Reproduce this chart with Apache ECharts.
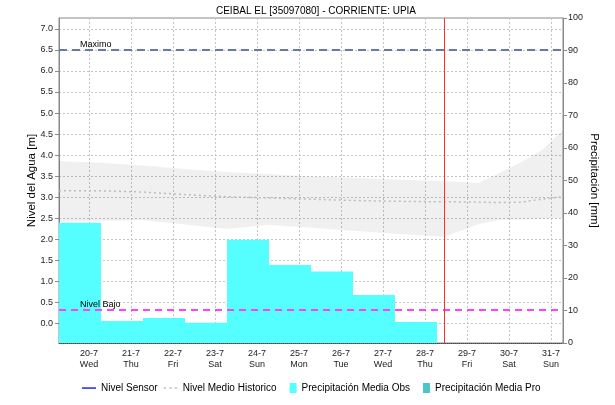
<!DOCTYPE html>
<html>
<head>
<meta charset="utf-8">
<script src="https://cdn.jsdelivr.net/npm/echarts@6/dist/echarts.min.js"></script>
<style>
html,body{margin:0;padding:0;background:#fff;}
#chart{width:615px;height:405px;}
</style>
</head>
<body>
<div id="chart"></div>
<script>
// ---- data ----
const titleText = 'CEIBAL EL [35097080] - CORRIENTE: UPIA';
const days = ['20-7','21-7','22-7','23-7','24-7','25-7','26-7','27-7','28-7','29-7','30-7','31-7'];
const weekdays = ['Wed','Thu','Fri','Sat','Sun','Mon','Tue','Wed','Thu','Fri','Sat','Sun'];
const dayIndex = [0,1,2,3,4,5,6,7,8,9,10,11];
const precipObs = [37.0, 6.8, 7.7, 6.2, 31.8, 24.0, 22.0, 14.8, 6.5, null, null, null];
const precipPro = [null, null, null, null, null, null, null, null, null, null, null, null];
const levelTicks = [0.0,0.5,1.0,1.5,2.0,2.5,3.0,3.5,4.0,4.5,5.0,5.5,6.0,6.5,7.0];
// historic level samples (time in days relative to 20-7 tick)
const histTime  = [-0.714, 0.286, 1.286, 2.286, 3.286, 4.286, 5.286, 6.286, 7.286, 8.286, 8.45, 9.286, 9.786, 10.286, 10.786, 11.286];
const histMax   = [3.86, 3.82, 3.75, 3.67, 3.60, 3.55, 3.49, 3.46, 3.42, 3.39, 3.38, 3.34, 3.58, 3.83, 4.12, 4.60];
const histMin   = [2.42, 2.43, 2.45, 2.35, 2.24, 2.34, 2.27, 2.20, 2.13, 2.07, 2.05, 2.36, 2.46, 2.47, 2.48, 2.50];
const histMean  = [3.15, 3.15, 3.12, 3.06, 3.01, 2.98, 2.95, 2.92, 2.90, 2.89, 2.89, 2.88, 2.87, 2.88, 2.95, 3.01];
const levelMax = 6.5;
const levelLow = 0.32;
const nowTime = 8.45;

// ---- chart ----
const FONT = 'Liberation Sans, Arial, sans-serif';
const chart = echarts.init(document.getElementById('chart'), null, {renderer: 'canvas'});

const bandData = histTime.map((t, i) => [t, histMin[i], histMax[i]]);
const meanData = histTime.map((t, i) => [t, histMean[i]]);

function renderBand(params, api) {
  if (params.dataIndex !== 0) return null;
  const pts = [];
  for (let i = 0; i < histTime.length; i++) pts.push(api.coord([histTime[i], histMax[i]]));
  for (let i = histTime.length - 1; i >= 0; i--) pts.push(api.coord([histTime[i], histMin[i]]));
  return {
    type: 'polygon', silent: true,
    shape: {points: pts},
    style: {fill: 'rgba(0,0,0,0.06)', stroke: null}
  };
}

const option = {
  animation: false,
  backgroundColor: '#ffffff',
  textStyle: {fontFamily: FONT},
  title: {
    text: titleText,
    left: 311, top: 1, textAlign: 'center',
    textStyle: {fontFamily: FONT, fontSize: 10, fontWeight: 'normal', color: '#000'}
  },
  legend: {
    left: 82, top: 383, padding: 0,
    itemWidth: 14, itemHeight: 10, itemGap: 6,
    textStyle: {fontFamily: FONT, fontSize: 10, color: '#000'},
    data: [
      {name: 'Nivel Sensor', icon: 'path://M0,0M14,10M0,4.4h14v1.3h-14z', itemStyle: {color: '#0000ff'}},
      {name: 'Nivel Medio Historico', icon: 'path://M0,0M14,10M0,4.3h2.5v1.5h-2.5zM5.5,4.3h2.5v1.5h-2.5zM11,4.3h2.5v1.5h-2.5z', itemStyle: {color: '#c4c4c4'}},
      {name: 'Precipitación Media Obs', icon: 'path://M7,0h7v10h-7zM0,0'},
      {name: 'Precipitación Media Pro', icon: 'path://M7,0h7v10h-7zM0,0'}
    ]
  },
  grid: {
    left: 59, right: 52, top: 18, bottom: 62,
    show: true, borderColor: '#8a8a8a', borderWidth: 1, backgroundColor: 'transparent'
  },
  xAxis: [
    {
      type: 'category', data: days, show: false, boundaryGap: true,
      axisLine: {onZero: false}
    },
    {
      type: 'value', position: 'bottom',
      min: -0.714, max: 11.286,
      axisLine: {show: true, onZero: false, lineStyle: {color: '#444', width: 1, type: [1, 1]}},
      axisTick: {show: false, customValues: dayIndex},
      axisLabel: {
        customValues: dayIndex,
        fontFamily: FONT, fontSize: 9, color: '#222', margin: 5, lineHeight: 11,
        formatter: function (v) {
          const i = Math.round(v);
          return days[i] + '\n' + weekdays[i];
        }
      },
      splitLine: {show: true, lineStyle: {color: '#c4c4c4', width: 1, type: [2, 2]}}
    }
  ],
  yAxis: [
    {
      type: 'value', position: 'left',
      min: -0.47, max: 7.26,
      name: 'Nivel del Agua [m]', nameLocation: 'middle', nameGap: 21, nameMoveOverlap: false,
      nameTextStyle: {fontFamily: FONT, fontSize: 11.5, color: '#000'},
      axisLine: {show: true, onZero: false, lineStyle: {color: '#8a8a8a'}},
      axisTick: {show: true, length: 4, customValues: levelTicks, lineStyle: {color: '#8a8a8a'}},
      axisLabel: {
        customValues: levelTicks,
        fontFamily: FONT, fontSize: 9, color: '#222', margin: 6,
        formatter: function (v) { return v.toFixed(1); }
      },
      splitLine: {show: true, lineStyle: {color: '#c4c4c4', width: 1, type: [2, 2]}}
    },
    {
      type: 'value', position: 'right',
      min: 0, max: 100, interval: 10,
      name: 'Precipitación [mm]', nameLocation: 'middle', nameGap: 25, nameRotate: -90, nameMoveOverlap: false,
      nameTextStyle: {fontFamily: FONT, fontSize: 11.5, color: '#000'},
      axisLine: {show: true, onZero: false, lineStyle: {color: '#8a8a8a'}},
      axisTick: {show: true, length: 4, lineStyle: {color: '#8a8a8a'}},
      axisLabel: {fontFamily: FONT, fontSize: 9, color: '#222', margin: 5},
      splitLine: {show: false}
    }
  ],
  series: [
    {
      name: 'histBand', type: 'custom', xAxisIndex: 1, yAxisIndex: 0,
      data: bandData, encode: {x: 0, y: [1, 2]},
      renderItem: renderBand, silent: true, z: 1, clip: true
    },
    {
      name: 'Precipitación Media Obs', type: 'bar', xAxisIndex: 0, yAxisIndex: 1,
      stack: 'precip', data: precipObs, barCategoryGap: '0%',
      itemStyle: {color: '#55ffff'}, z: 2
    },
    {
      name: 'Precipitación Media Pro', type: 'bar', xAxisIndex: 0, yAxisIndex: 1,
      stack: 'precip', data: precipPro, barCategoryGap: '0%',
      itemStyle: {color: '#48c8c8'}, z: 2
    },
    {
      name: 'Nivel Sensor', type: 'line', xAxisIndex: 1, yAxisIndex: 0,
      data: [], symbol: 'none', showSymbol: false,
      itemStyle: {color: '#0000ff'}, lineStyle: {color: '#0000ff', width: 1.5}
    },
    {
      name: 'Nivel Medio Historico', type: 'line', xAxisIndex: 1, yAxisIndex: 0,
      data: meanData, symbol: 'none', showSymbol: false,
      itemStyle: {color: '#c4c4c4'},
      lineStyle: {color: '#bcbcbc', width: 1.5, type: [2, 3]},
      z: 3,
      markLine: {
        silent: true, symbol: 'none', z: 6,
        data: [
          {
            yAxis: levelMax,
            lineStyle: {color: '#6a78a6', width: 2, type: [8, 5]},
            label: {show: true, formatter: 'Maximo', position: 'insideStartTop', distance: [21, 1],
                    fontFamily: FONT, fontSize: 9, color: '#000'}
          },
          {
            yAxis: levelLow,
            lineStyle: {color: '#ff40ff', width: 2, type: [7, 5]},
            label: {show: true, formatter: 'Nivel Bajo', position: 'insideStartTop', distance: [21, 1],
                    fontFamily: FONT, fontSize: 9, color: '#000'}
          },
          {
            xAxis: nowTime,
            lineStyle: {color: '#ff3030', width: 1, type: 'solid'},
            label: {show: false}
          }
        ]
      }
    }
  ]
};
chart.setOption(option);
</script>
</body>
</html>
